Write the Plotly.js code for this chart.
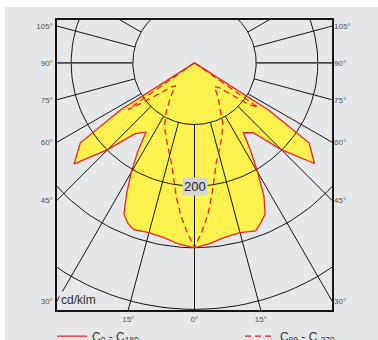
<!DOCTYPE html>
<html>
<head>
<meta charset="utf-8">
<script src="https://cdn.plot.ly/plotly-3.0.1.min.js"></script>
<style>
  html, body { margin: 0; padding: 0; background: #ffffff; }
  #chart { width: 378px; height: 340px; }
</style>
</head>
<body>
<div id="chart"></div>
<script>
// Luminous intensity distribution (cd/klm) against the angle from the nadir.

// C0 - C180 plane (solid): C180 drawn on the left, C0 on the right
const gammaC = [0, 5, 10, 15, 20, 22.5, 25, 27.5, 30, 32.5, 35, 40, 45, 50, 55, 57.5, 90];
const c180   = [300, 295, 288, 285, 288, 282, 271, 238, 205, 172, 137, 150, 199, 255, 226, 143, 0];
const c0     = [300, 294, 287, 285, 290, 281, 271, 244, 205, 170, 138, 148, 199, 254, 227, 143, 0];

// C90 - C270 plane (dashed): C270 on the left, C90 on the right
const gammaD = [0, 2.5, 5, 7.5, 10, 12.5, 15, 20, 25, 30, 35, 40, 45, 47.5, 50, 52.5, 55, 60];
const c270   = [300, 275, 250, 222, 193, 170, 155, 133, 115, 92, 68, 48, 57, 68, 86, 106, 132, 0];
const c90    = [300, 274, 248, 216, 187, 164, 152, 129, 109, 83, 66, 50, 57, 68, 86, 110, 126, 0];

// Polar grid
const rings = [100, 200, 300, 400];
const spokeAngles = [-180, -165, -150, -135, -120, -105, -75, -60, -45, -30, -15, 0,
                     15, 30, 45, 60, 75, 105, 120, 135, 150, 165, 180];
const horizonAngles = [-90, 90];

// Angle labels on the frame
const sideTickAngles = [30, 45, 60, 75, 90, 105];
const sideTickText   = ['30°', '45°', '60°', '75°', '90°', '105°'];
const bottomTickAngles = [-15, 0, 15];
const bottomTickText   = ['15°', '0°', '15°'];

const X_EDGE = 223;          // half width of the frame, cd/klm
const Y_BOTTOM = -401;       // bottom of the frame, cd/klm
const Y_TOP = 69.6;          // top of the frame, cd/klm
const R_START = 100;         // spokes start at the first ring
const R_END = 1000;

const rad = d => d * Math.PI / 180;
const px = (g, i, side) => side * i * Math.sin(rad(g));
const py = (g, i) => -i * Math.cos(rad(g));

// closed outline: left half from the horizontal down to the nadir, then the right half back up
function outline(gammas, left, right) {
  const x = [], y = [];
  for (let k = gammas.length - 1; k >= 0; k--) { x.push(px(gammas[k], left[k], -1)); y.push(py(gammas[k], left[k])); }
  for (let k = 1; k < gammas.length; k++) { x.push(px(gammas[k], right[k], 1)); y.push(py(gammas[k], right[k])); }
  return { x, y };
}

const solid = outline(gammaC, c180, c0);
const dashed = outline(gammaD, c270, c90);

function ringsXY() {
  const x = [], y = [];
  rings.forEach(r => {
    for (let a = 0; a <= 360; a += 2) { x.push(r * Math.sin(rad(a))); y.push(-r * Math.cos(rad(a))); }
    x.push(null); y.push(null);
  });
  return { x, y };
}
function spokesXY(angles) {
  const x = [], y = [];
  angles.forEach(a => {
    x.push(px(a, R_START, 1), px(a, R_END, 1), null);
    y.push(py(a, R_START), py(a, R_END), null);
  });
  return { x, y };
}
const ringLines = ringsXY();
const spokeLines = spokesXY(spokeAngles);
const horizonLines = spokesXY(horizonAngles);

const RED = '#ee2326';
const GRID = '#151515';
const BG = '#e6e7e9';

const traces = [
  { x: solid.x, y: solid.y, mode: 'lines', fill: 'toself', fillcolor: '#fff24f',
    line: { width: 0, color: 'rgba(0,0,0,0)' }, showlegend: false, hoverinfo: 'skip' },
  { x: ringLines.x, y: ringLines.y, mode: 'lines', line: { color: GRID, width: 1 },
    showlegend: false, hoverinfo: 'skip' },
  { x: spokeLines.x, y: spokeLines.y, mode: 'lines', line: { color: GRID, width: 1 },
    showlegend: false, hoverinfo: 'skip' },
  { x: horizonLines.x, y: horizonLines.y, mode: 'lines', line: { color: '#4a4a4a', width: 1.6 },
    showlegend: false, hoverinfo: 'skip' },
  { x: solid.x, y: solid.y, mode: 'lines', name: 'C<sub>0</sub> - C<sub>180</sub>',
    line: { color: RED, width: 1.3 }, hoverinfo: 'skip', legend: 'legend' },
  { x: dashed.x, y: dashed.y, mode: 'lines', name: 'C<sub>90</sub> - C <sub>270</sub>',
    line: { color: RED, width: 1.3, dash: '6px,4px' }, hoverinfo: 'skip', legend: 'legend2' },
  { x: [0], y: [0], yaxis: 'y2', mode: 'none', showlegend: false, hoverinfo: 'skip' }
];

const tickFont = { family: 'Liberation Sans, Arial, sans-serif', size: 8, color: '#4f4f4f' };
const sideTickVals = sideTickAngles.map(a => -X_EDGE / Math.tan(rad(a)));
const bottomTickVals = bottomTickAngles.map(a => -Y_BOTTOM * Math.tan(rad(a)));

const legendFont = { family: 'Liberation Sans, Arial, sans-serif', size: 12, color: '#333333' };

const layout = {
  width: 378, height: 340,
  margin: { l: 57, r: 46, t: 20, b: 30, autoexpand: false },
  paper_bgcolor: BG,
  plot_bgcolor: BG,
  hovermode: false,
  xaxis: {
    range: [-X_EDGE, X_EDGE], showgrid: false, zeroline: false,
    showline: true, mirror: true, linecolor: GRID, linewidth: 1.6,
    tickmode: 'array', tickvals: bottomTickVals, ticktext: bottomTickText,
    ticks: '', ticklabelstandoff: 1, tickfont: tickFont, fixedrange: true
  },
  yaxis: {
    range: [Y_BOTTOM, Y_TOP], showgrid: false, zeroline: false,
    showline: true, mirror: true, linecolor: GRID, linewidth: 1.6,
    tickmode: 'array', tickvals: sideTickVals, ticktext: sideTickText,
    ticks: '', ticklabelstandoff: 1, tickfont: tickFont, fixedrange: true
  },
  yaxis2: {
    overlaying: 'y', side: 'right', range: [Y_BOTTOM, Y_TOP],
    showgrid: false, zeroline: false, showline: false,
    tickmode: 'array', tickvals: sideTickVals, ticktext: sideTickText,
    ticks: '', ticklabelstandoff: 1, tickfont: tickFont, fixedrange: true
  },
  legend: {
    orientation: 'h', xref: 'container', x: 52 / 378, xanchor: 'left',
    y: -0.04, yanchor: 'top', font: legendFont,
    bgcolor: 'rgba(0,0,0,0)', borderwidth: 0
  },
  legend2: {
    orientation: 'h', xref: 'container', x: 240 / 378, xanchor: 'left',
    y: -0.04, yanchor: 'top', font: legendFont,
    bgcolor: 'rgba(0,0,0,0)', borderwidth: 0
  },
  annotations: [
    { x: 0, y: -200, xref: 'x', yref: 'y', text: '200', showarrow: false,
      bgcolor: '#d3d4d6', borderpad: 1,
      font: { family: 'Liberation Sans, Arial, sans-serif', size: 13, color: '#222222' } },
    { x: 0, y: 0, xref: 'paper', yref: 'paper', xanchor: 'left', yanchor: 'bottom',
      xshift: 2, yshift: 1, text: 'cd/klm', showarrow: false, bgcolor: BG, borderpad: 1,
      font: { family: 'Liberation Sans, Arial, sans-serif', size: 12, color: '#2a2a2a' } }
  ],
  shapes: [
    { type: 'rect', xref: 'paper', yref: 'paper', x0: -57 / 275, x1: (378 - 57) / 275,
      y0: 1 + 13 / 290, y1: 1 + 20 / 290, fillcolor: '#ffffff', line: { width: 0 }, layer: 'above' },
    { type: 'rect', xref: 'paper', yref: 'paper', x0: -57 / 275, x1: -52 / 275,
      y0: -30 / 290, y1: 1 + 20 / 290, fillcolor: '#ffffff', line: { width: 0 }, layer: 'above' }
  ]
};

Plotly.newPlot('chart', traces, layout, { displayModeBar: false, staticPlot: true });
</script>
</body>
</html>
